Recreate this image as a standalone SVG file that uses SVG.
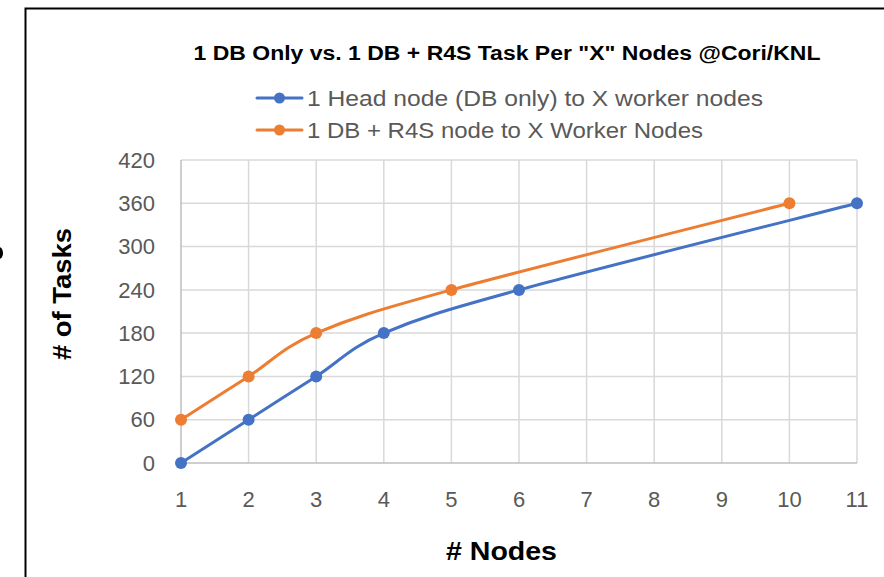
<svg xmlns="http://www.w3.org/2000/svg" width="884" height="577" viewBox="0 0 884 577">
  <style>
    .grid { stroke: #d9d9d9; stroke-width: 1.5; fill: none; }
    .axis { stroke: #bfbfbf; stroke-width: 1.5; fill: none; }
    .tick { font-family: "Liberation Sans", Arial, sans-serif; font-size: 22px; fill: #595959; }
    .legend { font-family: "Liberation Sans", Arial, sans-serif; font-size: 22px; fill: #595959; }
    .title { font-family: "Liberation Sans", Arial, sans-serif; font-size: 19.5px; font-weight: bold; fill: #000; }
    .axtitle { font-family: "Liberation Sans", Arial, sans-serif; font-size: 26px; font-weight: bold; fill: #000; }
    .blue { stroke: #4472c4; stroke-width: 3; fill: none; stroke-linecap: round; }
    .orange { stroke: #ed7d31; stroke-width: 3; fill: none; stroke-linecap: round; }
    .bdot { fill: #4472c4; }
    .odot { fill: #ed7d31; }
  </style>

  <rect x="0" y="0" width="884" height="577" fill="#ffffff"/>

  <!-- chart frame -->
  <g id="frame">
    <path d="M25.5 577 V8.5 H884" fill="none" stroke="#000" stroke-width="2"/>
    <ellipse cx="-1" cy="253" rx="4" ry="6" fill="#000"/>
  </g>

  <!-- title -->
  <g id="title">
    <text class="title" x="507" y="60" text-anchor="middle" textLength="627" lengthAdjust="spacingAndGlyphs">1 DB Only vs. 1 DB + R4S Task Per "X" Nodes @Cori/KNL</text>
  </g>

  <!-- legend -->
  <g id="legend">
    <line class="blue" x1="257" y1="98" x2="302" y2="98"/>
    <circle class="bdot" cx="279.5" cy="98" r="5.5"/>
    <text class="legend" x="307" y="106" textLength="456" lengthAdjust="spacingAndGlyphs">1 Head node (DB only) to X worker nodes</text>
    <line class="orange" x1="257" y1="130" x2="302" y2="130"/>
    <circle class="odot" cx="279.5" cy="130" r="5.5"/>
    <text class="legend" x="307" y="138" textLength="396" lengthAdjust="spacingAndGlyphs">1 DB + R4S node to X Worker Nodes</text>
  </g>

  <!-- plot grid -->
  <g id="grid">
    <path class="grid" d="M181 160H857 M181 203.3H857 M181 246.6H857 M181 289.9H857 M181 333.1H857 M181 376.4H857 M181 419.7H857"/>
    <path class="grid" d="M248.6 160V463 M316.2 160V463 M383.8 160V463 M451.4 160V463 M519 160V463 M586.6 160V463 M654.2 160V463 M721.8 160V463 M789.4 160V463 M857 160V463"/>
    <path class="axis" d="M181 160V463 H857"/>
  </g>

  <!-- y tick labels -->
  <g id="y-ticks">
    <text class="tick" x="155" y="168" text-anchor="end">420</text>
    <text class="tick" x="155" y="211" text-anchor="end">360</text>
    <text class="tick" x="155" y="254" text-anchor="end">300</text>
    <text class="tick" x="155" y="298" text-anchor="end">240</text>
    <text class="tick" x="155" y="341" text-anchor="end">180</text>
    <text class="tick" x="155" y="384" text-anchor="end">120</text>
    <text class="tick" x="155" y="427" text-anchor="end">60</text>
    <text class="tick" x="155" y="471" text-anchor="end">0</text>
  </g>

  <!-- x tick labels -->
  <g id="x-ticks">
    <text class="tick" x="181" y="507" text-anchor="middle">1</text>
    <text class="tick" x="248.6" y="507" text-anchor="middle">2</text>
    <text class="tick" x="316.2" y="507" text-anchor="middle">3</text>
    <text class="tick" x="383.8" y="507" text-anchor="middle">4</text>
    <text class="tick" x="451.4" y="507" text-anchor="middle">5</text>
    <text class="tick" x="519" y="507" text-anchor="middle">6</text>
    <text class="tick" x="586.6" y="507" text-anchor="middle">7</text>
    <text class="tick" x="654.2" y="507" text-anchor="middle">8</text>
    <text class="tick" x="721.8" y="507" text-anchor="middle">9</text>
    <text class="tick" x="789.4" y="507" text-anchor="middle">10</text>
    <text class="tick" x="857" y="507" text-anchor="middle">11</text>
  </g>

  <!-- axis titles -->
  <g id="axis-titles">
    <text class="axtitle" x="501.5" y="560" text-anchor="middle" textLength="111" lengthAdjust="spacingAndGlyphs">#&#160;Nodes</text>
    <text class="axtitle" transform="translate(71 294) rotate(-90)" text-anchor="middle" textLength="132" lengthAdjust="spacingAndGlyphs">#&#160;of Tasks</text>
  </g>

  <!-- data series -->
  <g id="connectors">
    <path id="series-head" class="blue" d="M181 463 C192.3 455.8 226.1 434.1 248.6 419.7 C271.1 405.3 293.7 390.8 316.2 376.4 C338.7 362 350 347.5 383.8 333.1 C417.6 318.7 440.1 311.5 519 289.9 C597.9 268.3 800.7 217.7 857 203.3"/>
    <path id="series-r4s" class="orange" d="M181 419.7 C192.3 412.5 226.1 390.8 248.6 376.4 C271.1 362 282.4 347.5 316.2 333.1 C350 318.7 372.5 311.5 451.4 289.9 C530.3 268.3 733.1 217.7 789.4 203.3"/>
  </g>

  <g id="points-head">
    <circle class="bdot" cx="181" cy="463" r="6"/>
    <circle class="bdot" cx="248.6" cy="419.7" r="6"/>
    <circle class="bdot" cx="316.2" cy="376.4" r="6"/>
    <circle class="bdot" cx="383.8" cy="333.1" r="6"/>
    <circle class="bdot" cx="519" cy="289.9" r="6"/>
    <circle class="bdot" cx="857" cy="203.3" r="6"/>
  </g>
  <g id="points-r4s">
    <circle class="odot" cx="181" cy="419.7" r="6"/>
    <circle class="odot" cx="248.6" cy="376.4" r="6"/>
    <circle class="odot" cx="316.2" cy="333.1" r="6"/>
    <circle class="odot" cx="451.4" cy="289.9" r="6"/>
    <circle class="odot" cx="789.4" cy="203.3" r="6"/>
  </g>
</svg>
